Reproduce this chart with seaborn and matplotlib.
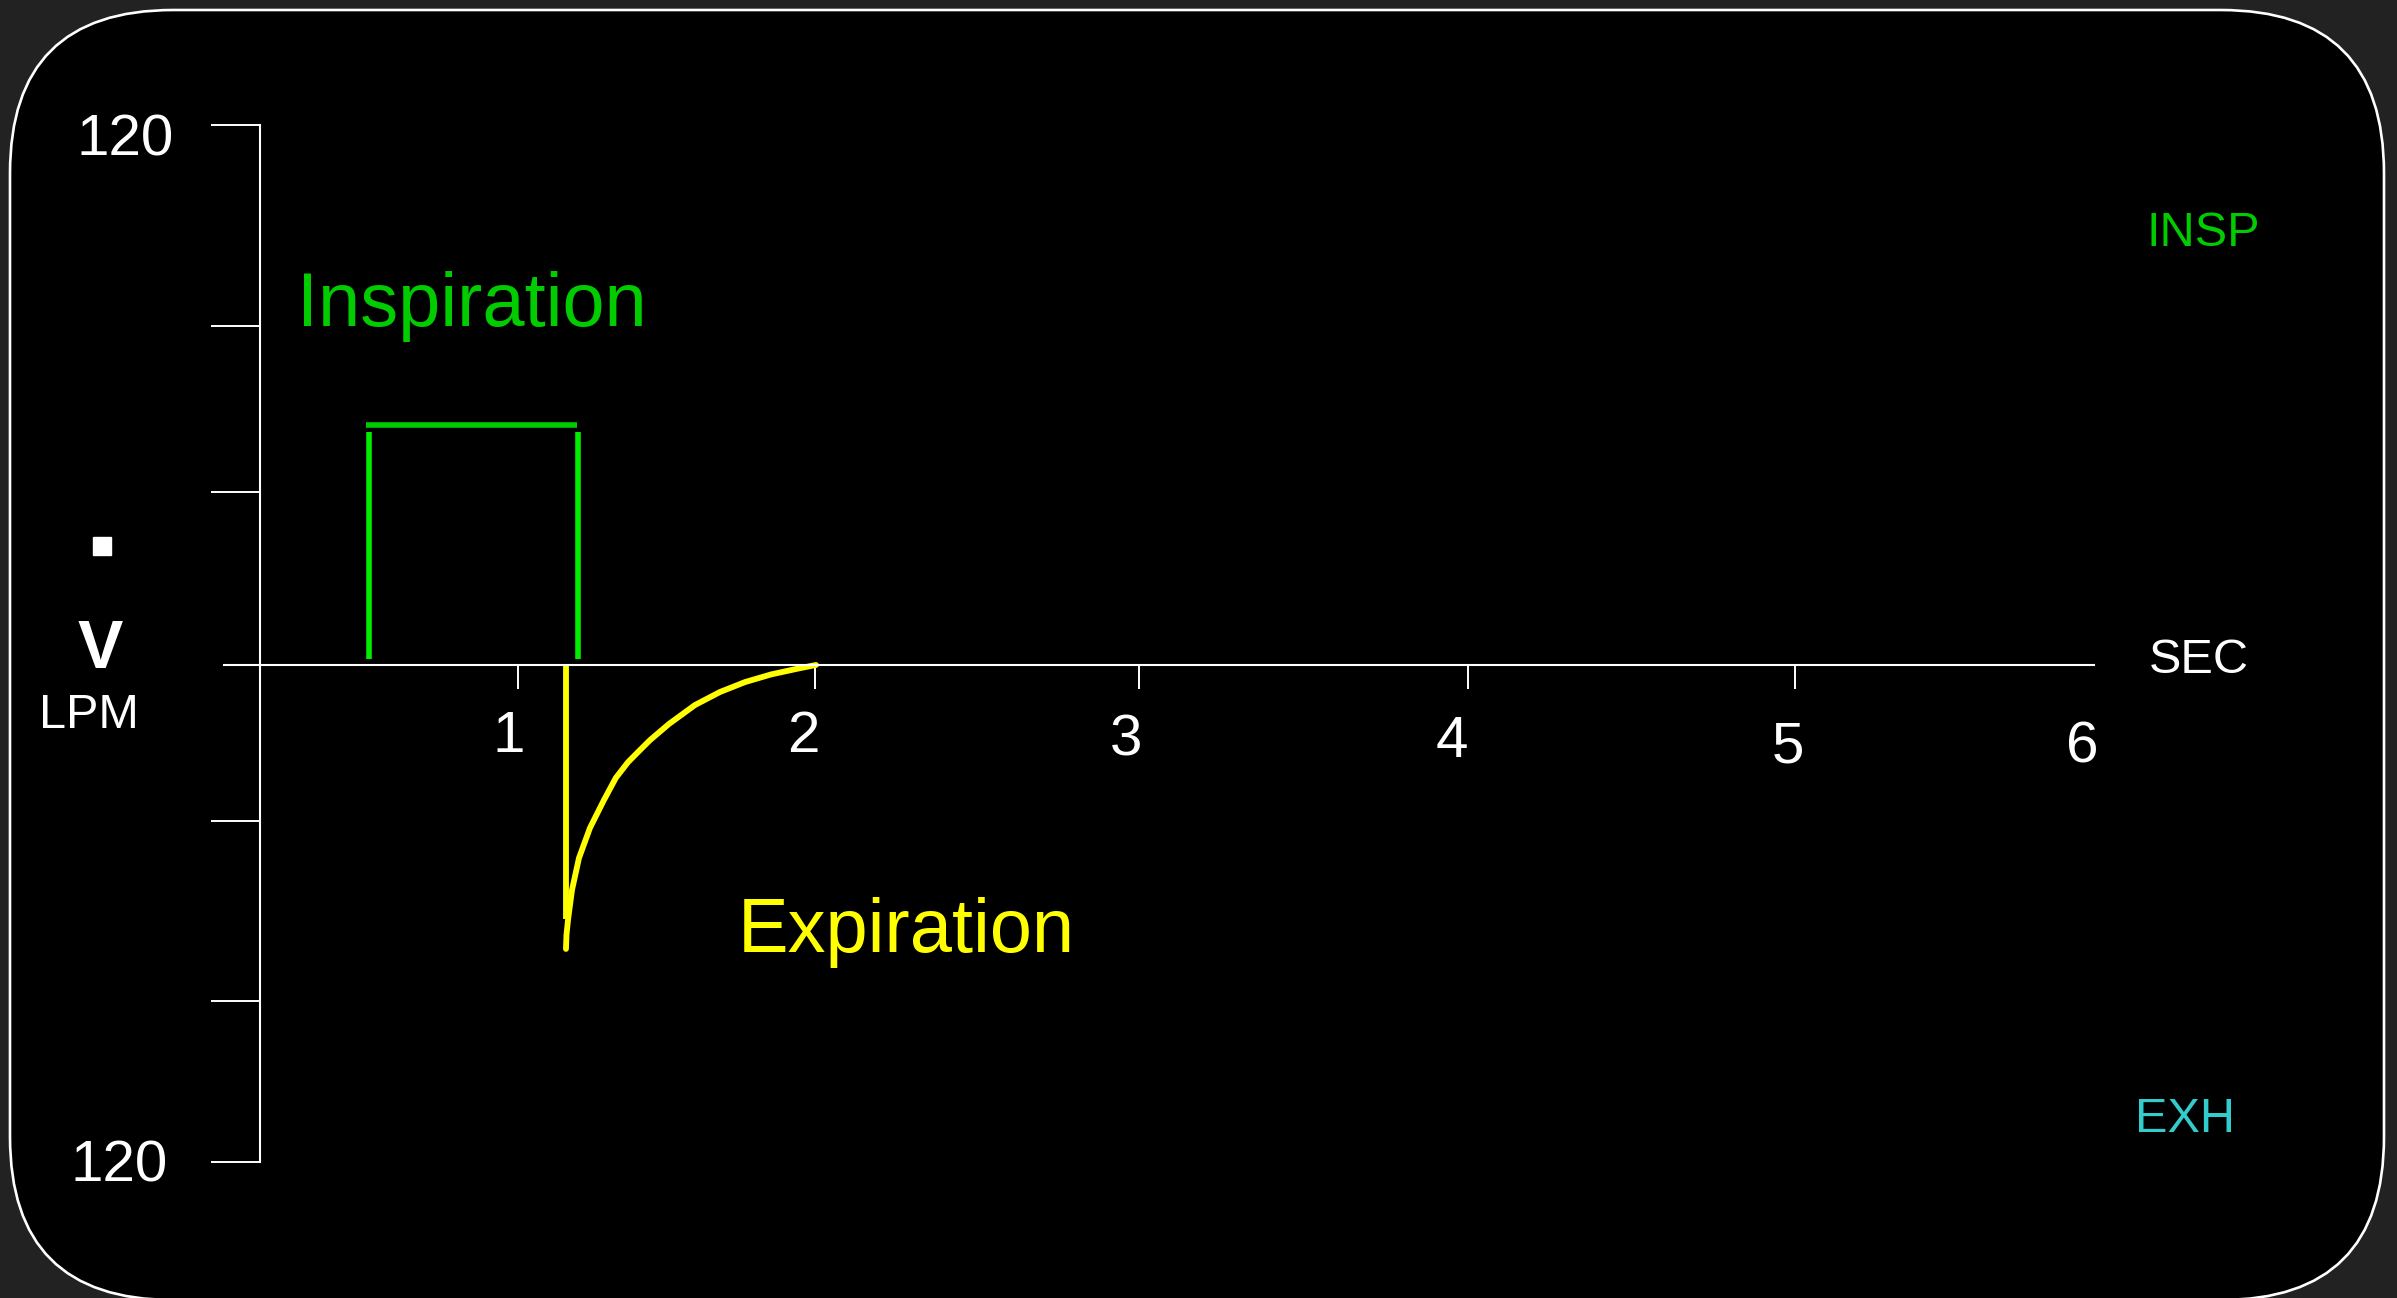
import matplotlib
matplotlib.use("Agg")
import matplotlib.pyplot as plt
from matplotlib.patches import FancyBboxPatch, Rectangle
from matplotlib.transforms import IdentityTransform
import pandas as pd
import seaborn as sns

# ---------------- data (time in s, flow in L/min) ----------------
insp_edge_t = [0.635, 1.273]          # rising / falling edge of the square flow
insp_edge_flow = [1.3, 51.8]          # extent of each edge stroke
insp_plateau_t = [0.625, 1.271]       # constant inspiratory flow segment
insp_plateau_flow = 53.3

exp_drop_t = 1.2375                   # instant of expiratory valve opening
exp_drop_flow = [0.0, -56.4]
exp_t = [1.2375, 1.2390, 1.2437, 1.2559, 1.2773, 1.3110, 1.3538, 1.3900,
         1.4273, 1.4600, 1.4946, 1.5528, 1.6323, 1.7089, 1.7854, 1.8650,
         1.9538, 2.0028]
exp_flow = [-63.1, -60.0, -56.7, -50.0, -42.9, -36.2, -30.0, -25.1,
            -21.6, -19.2, -16.7, -13.1, -8.9, -6.0, -3.8, -2.1,
            -0.7, 0.0]

x_ticks = [1.09, 2.0, 2.99, 4.0, 5.0]
x_tick_labels = ["1", "2", "3", "4", "5", "6"]
y_ticks = [120, 75.3, 38.4, -34.7, -74.7, -110.4]
y_end_label = "120"

# ---------------- styling ----------------
W, H, DPI = 2397, 1298, 100
GREEN_TXT = "#00CC00"
GREEN_LINE = "#00EE00"
YELLOW = "#FFFF00"
CYAN = "#33CCCC"

sns.set_theme(style="dark")
plt.rcParams["font.family"] = ["Liberation Sans", "DejaVu Sans"]

fig = plt.figure(figsize=(W / DPI, H / DPI), dpi=DPI, facecolor="#222222")

# rounded monitor frame
frame = FancyBboxPatch((10, -2), 2374, 1290,
                       boxstyle="round,pad=0,rounding_size=163",
                       transform=IdentityTransform(), facecolor="black",
                       edgecolor="white", linewidth=1.9, zorder=-1)
fig.add_artist(frame)

ax = fig.add_axes([0, 0, 1, 1])
ax.set_facecolor("none")
ax.set_xlim(-0.4949, 6.8421)
ax.set_ylim(-140.67, 147.78)
ax.grid(False)

# axes drawn as monitor axis lines
for side in ("top", "right"):
    ax.spines[side].set_visible(False)
ax.spines["left"].set_position(("data", 0.301))
ax.spines["left"].set_bounds(y_ticks[-1], y_ticks[0])
ax.spines["bottom"].set_position(("data", 0))
ax.spines["bottom"].set_bounds(0.19, 5.915)
for side in ("left", "bottom"):
    ax.spines[side].set_color("white")
    ax.spines[side].set_linewidth(1.5)

ax.set_xticks(x_ticks)
ax.set_xticklabels([])
ax.set_yticks(y_ticks)
ax.set_yticklabels([])
ax.tick_params(axis="x", direction="out", length=17, width=1.4,
               color="white", bottom=True)
ax.tick_params(axis="y", direction="out", length=35, width=1.4,
               color="white", left=True)

# inspiratory square wave
edges = pd.DataFrame({
    "t": [insp_edge_t[0]] * 2 + [insp_edge_t[1]] * 2,
    "flow": insp_edge_flow * 2,
    "edge": ["rise", "rise", "fall", "fall"],
})
sns.lineplot(data=edges, x="t", y="flow", units="edge", estimator=None,
             sort=False, color=GREEN_LINE, linewidth=4.0, ax=ax,
             solid_capstyle="butt")
plateau = pd.DataFrame({"t": insp_plateau_t,
                        "flow": [insp_plateau_flow] * 2})
sns.lineplot(data=plateau, x="t", y="flow", estimator=None, sort=False,
             color=GREEN_TXT, linewidth=4.0, ax=ax, solid_capstyle="butt")

# expiratory flow
drop = pd.DataFrame({"t": [exp_drop_t] * 2, "flow": exp_drop_flow})
sns.lineplot(data=drop, x="t", y="flow", estimator=None, sort=False,
             color=YELLOW, linewidth=4.2, ax=ax, solid_capstyle="butt")
decay = pd.DataFrame({"t": exp_t, "flow": exp_flow})
sns.lineplot(data=decay, x="t", y="flow", estimator=None, sort=False,
             color=YELLOW, linewidth=4.2, ax=ax, solid_capstyle="round",
             solid_joinstyle="round")

ax.set_xlabel("")
ax.set_ylabel("")


def fp(x, y):
    """pixel position -> figure fraction"""
    return x / W, 1 - y / H


def label(x, y, s, size, color="white", ha="center", **kw):
    fig.text(*fp(x, y), s, fontsize=size, color=color, ha=ha,
             va="baseline", **kw)


# axis scale labels
label(125, 155, y_end_label, 42)
label(119, 1182, y_end_label, 42)
tick_label_pos = [(509, 752), (803, 752), (1126, 755), (1452, 757),
                  (1788, 762), (2082, 762)]
for (px, py), s in zip(tick_label_pos, x_tick_labels):
    label(px, py, s, 42)

# flow symbol V-dot and units
fig.add_artist(Rectangle(fp(93, 555), 18 / W, 18 / H,
                         transform=fig.transFigure, color="white"))
label(100, 668, "V", 49, fontweight="bold")
label(89, 728, "LPM", 35)
label(2199, 673, "SEC", 35)

# phase annotations
label(297, 326, "Inspiration", 54.5, color=GREEN_TXT, ha="left")
label(738, 952, "Expiration", 54.5, color=YELLOW, ha="left")
label(2203, 246, "INSP", 35, color=GREEN_TXT)
label(2185, 1132, "EXH", 35, color=CYAN)

fig.savefig("out.png", dpi=DPI, facecolor=fig.get_facecolor())
